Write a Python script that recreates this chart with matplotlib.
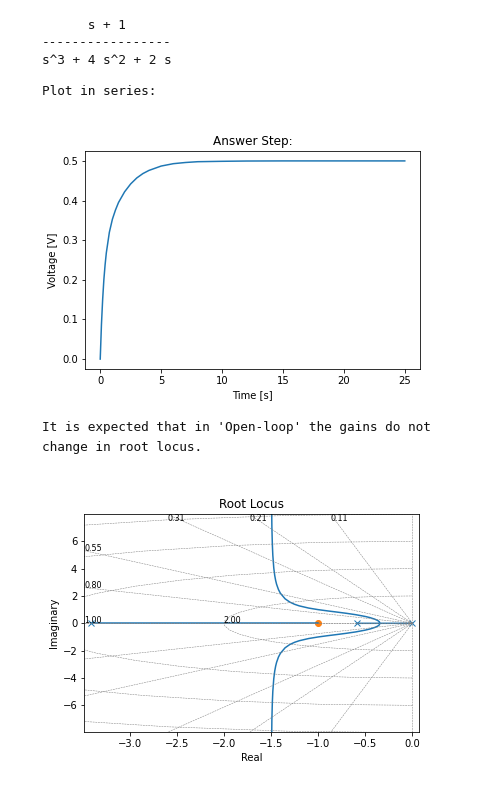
import matplotlib
matplotlib.use("Agg")
import matplotlib.pyplot as plt
import numpy as np

# step response
step_t = [0, 0.1, 0.2, 0.3, 0.4, 0.5, 0.75, 1.0, 1.25, 1.5, 2.0, 2.5, 3.0, 3.5,
          4.0, 5.0, 6.0, 7.0, 8.0, 10.0, 12.0, 15.0, 20.0, 25.0]
step_v = [0, 0.087, 0.151, 0.201, 0.238, 0.268, 0.320, 0.353, 0.376, 0.395,
          0.422, 0.442, 0.457, 0.468, 0.476, 0.487, 0.493, 0.496, 0.498, 0.499,
          0.4997, 0.500, 0.500, 0.500]

# open-loop poles / zeros
poles_re = [-3.414, -0.586, 0.0]
zeros_re = [-1.0]

# locus: real branch pole -> zero, and the complex pair after breakaway
real_branch_re = [-3.414, -1.0]
branch_re = [-0.344, -0.35, -0.36, -0.37, -0.4, -0.45, -0.5, -0.6, -0.7, -0.8,
             -0.9, -1.0, -1.1, -1.2, -1.25, -1.3, -1.35, -1.4, -1.42, -1.44,
             -1.45, -1.46, -1.47, -1.48, -1.485, -1.49, -1.495]
branch_im = [0.0, 0.111, 0.170, 0.214, 0.307, 0.417, 0.5, 0.629, 0.731, 0.821,
             0.907, 1.0, 1.114, 1.275, 1.392, 1.552, 1.792, 2.2, 2.465, 2.853,
             3.13, 3.505, 4.056, 4.977, 5.753, 7.054, 9.99]

# s-grid
sgrid_zetas = [0.108, 0.212, 0.310, 0.548, 0.800, 1.0]
sgrid_wn = [-8, -6, -4, -2]

W, H = 500, 790
fig = plt.figure(figsize=(W / 72, H / 72), dpi=72)


def px_text(x, y, s):
    fig.text(x / W, 1 - y / H, s, family="DejaVu Sans Mono", fontsize=12.7,
             va="baseline", ha="left", color="#111111")


px_text(41.5, 29, "      s + 1")
px_text(41.5, 46.5, "-----------------")
px_text(41.5, 64, "s^3 + 4 s^2 + 2 s")
px_text(41.5, 95, "Plot in series:")
px_text(41.5, 430.5, "It is expected that in 'Open-loop' the gains do not")
px_text(41.5, 450.5, "change in root locus.")

# step answer
ax1 = fig.add_axes([85 / W, 1 - 369 / H, 335 / W, 218 / H])
ax1.plot(step_t, step_v)
ax1.set_title("Answer Step:")
ax1.set_xlabel("Time [s]")
ax1.set_ylabel("Voltage [V]")

# root locus
ax2 = fig.add_axes([84.3 / W, 1 - 732.3 / H, 335 / W, 218 / H])
xlim = (-3.48, 0.074)
ylim = (-7.97, 7.97)
ax2.plot(poles_re, [0] * len(poles_re), "x")
ax2.plot(zeros_re, [0] * len(zeros_re), "o")
ax2.plot(real_branch_re, [0, 0], "C0")
ax2.plot([-0.586] + branch_re, [0] + branch_im, "C0")
ax2.plot([0.0] + branch_re, [0] + [-v for v in branch_im], "C0")
ax2.set_xlim(xlim)
ax2.set_ylim(ylim)

grid_kw = dict(color="gray", linestyle="dashed", linewidth=0.5)
x_end = ax2.xaxis.get_major_locator()()[0]
ytext = ylim[1] - (ylim[1] - ylim[0]) * 0.03
for z in sgrid_zetas:
    slope = np.tan(np.pi / 2 + np.arcsin(z))
    ax2.plot([0, x_end], [0, slope * x_end], **grid_kw)
    ax2.plot([0, x_end], [0, -slope * x_end], **grid_kw)
    xt = ylim[1] / slope
    yt = slope * xlim[0]
    if abs(xt) > abs(xlim[0]):
        xt = xlim[0]
    else:
        yt = ytext
    ax2.annotate(f"{z:.2f}", xy=(xt, yt), fontsize=8, annotation_clip=False)
ax2.plot([0, 0], ylim, **grid_kw)

ang = np.linspace(-90, 90, 20) * np.pi / 180
for om in sgrid_wn:
    ax2.plot(-np.cos(ang) * abs(om), np.sin(ang) * abs(om), **grid_kw)
    if om >= xlim[0]:
        ax2.annotate(f"{-om:.2f}", xy=(om, 0), fontsize=8)

ax2.set_xlim(xlim)
ax2.set_ylim(ylim)
ax2.set_title("Root Locus")
ax2.set_xlabel("Real")
ax2.set_ylabel("Imaginary")

fig.savefig("out.png", dpi=72)
